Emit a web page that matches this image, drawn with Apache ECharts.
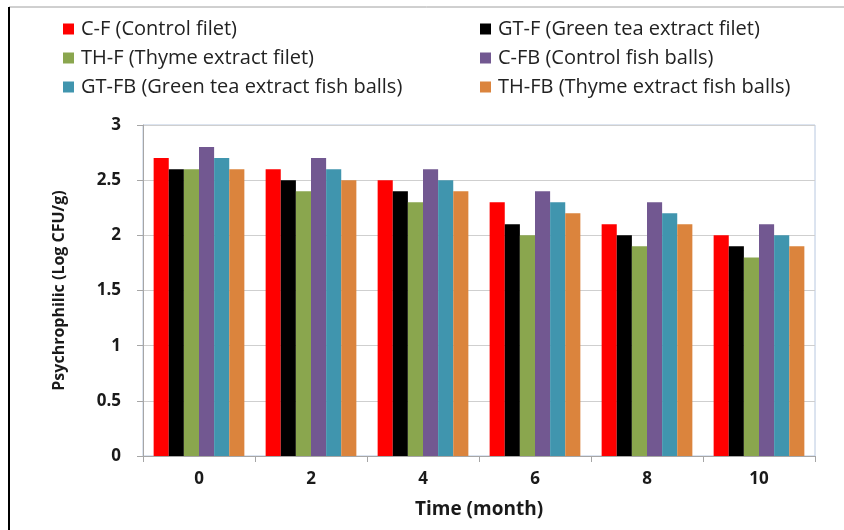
<!DOCTYPE html>
<html>
<head>
<meta charset="utf-8">
<script src="https://cdn.jsdelivr.net/npm/echarts@6/dist/echarts.min.js"></script>
<style>
html,body{margin:0;padding:0;background:#fff;}
#chart{width:844px;height:530px;}
</style>
</head>
<body>
<div id="chart"></div>
<script>
// Storage time (months)
const months = ['0', '2', '4', '6', '8', '10'];

// Psychrophilic counts (Log CFU/g) per treatment
const cF  = [2.7, 2.6, 2.5, 2.3, 2.1, 2.0];
const gtF = [2.6, 2.5, 2.4, 2.1, 2.0, 1.9];
const thF = [2.6, 2.4, 2.3, 2.0, 1.9, 1.8];
const cFB = [2.8, 2.7, 2.6, 2.4, 2.3, 2.1];
const gtFB = [2.7, 2.6, 2.5, 2.3, 2.2, 2.0];
const thFB = [2.6, 2.5, 2.4, 2.2, 2.1, 1.9];

const seriesNames = [
  'C-F (Control filet)',
  'GT-F (Green tea extract filet)',
  'TH-F (Thyme extract filet)',
  'C-FB (Control fish balls)',
  'GT-FB (Green tea extract fish balls)',
  'TH-FB (Thyme extract fish balls)'
];
const seriesData = [cF, gtF, thF, cFB, gtFB, thFB];
const colors = ['#ff0000', '#000000', '#8aa64e', '#725891', '#4095ae', '#db843d'];

const yTicks = [0, 0.5, 1, 1.5, 2, 2.5, 3];

const FONT = '"Open Sans", "DejaVu Sans", sans-serif';

const chart = echarts.init(document.getElementById('chart'), null, {renderer: 'canvas'});

const legendBase = {
  orient: 'vertical',
  icon: 'rect',
  itemWidth: 11,
  itemHeight: 11,
  itemGap: 9,
  padding: 0,
  textStyle: {fontFamily: FONT, fontSize: 20, color: '#222222', padding: [0, 0, 0, 2]},
  selectedMode: false
};

chart.setOption({
  animation: false,
  color: colors,
  legend: [
    Object.assign({}, legendBase, {left: 63, top: 19, data: [seriesNames[0], seriesNames[2], seriesNames[4]]}),
    Object.assign({}, legendBase, {left: 480, top: 19, data: [seriesNames[1], seriesNames[3], seriesNames[5]]})
  ],
  grid: {left: 143, right: 29, top: 125, bottom: 74, show: true, borderColor: '#b8c8e0', borderWidth: 1, backgroundColor: 'transparent'},
  xAxis: {
    type: 'category',
    data: months,
    name: 'Time (month)',
    nameLocation: 'middle',
    nameGap: 44,
    nameTextStyle: {fontFamily: FONT, fontSize: 19, fontWeight: 'bold', color: '#1a1a1a'},
    axisLine: {lineStyle: {color: '#a6a6a6', width: 1}},
    axisTick: {show: true, length: 6, lineStyle: {color: '#a6a6a6'}},
    axisLabel: {fontFamily: FONT, fontSize: 17, fontWeight: 'bold', color: '#1a1a1a', margin: 15}
  },
  yAxis: {
    type: 'value',
    min: yTicks[0],
    max: yTicks[yTicks.length - 1],
    interval: 0.5,
    name: 'Psychrophilic (Log CFU/g)',
    nameLocation: 'middle',
    nameGap: 76,
    nameTextStyle: {fontFamily: FONT, fontSize: 16, fontWeight: 'bold', color: '#1a1a1a'},
    axisLine: {show: true, lineStyle: {color: '#a6a6a6', width: 1}},
    axisTick: {show: true, length: 6, lineStyle: {color: '#a6a6a6'}},
    axisLabel: {fontFamily: FONT, fontSize: 17, fontWeight: 'bold', color: '#1a1a1a', margin: 22},
    splitLine: {lineStyle: {color: '#cfcfcf', width: 1}}
  },
  series: seriesNames.map((name, i) => ({
    name: name,
    type: 'bar',
    data: seriesData[i],
    barGap: '0%',
    barCategoryGap: '19%',
    itemStyle: {color: colors[i]}
  })),
  graphic: [
    {type: 'line', shape: {x1: 9, y1: 7, x2: 844, y2: 7}, style: {stroke: '#a0a0a0', lineWidth: 1}},
    {type: 'line', shape: {x1: 9, y1: 7, x2: 9, y2: 530}, style: {stroke: '#000000', lineWidth: 2}}
  ]
});
</script>
</body>
</html>
